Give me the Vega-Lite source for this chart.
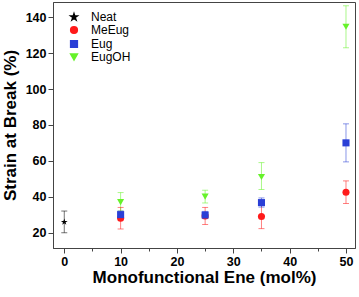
{
  "$schema": "https://vega.github.io/schema/vega-lite/v6.json",
  "width": 302,
  "height": 246,
  "autosize": "none",
  "padding": {"left": 53, "top": 2, "right": 4, "bottom": 49},
  "background": "white",
  "config": {
    "view": {"stroke": "#444", "strokeWidth": 1},
    "font": "Liberation Sans",
    "axis": {
      "domainColor": "#444", "tickColor": "#444", "grid": false,
      "labelFont": "Liberation Sans", "labelFontWeight": "bold", "labelFontSize": 12.5, "labelColor": "#000",
      "titleFont": "Liberation Sans", "titleFontWeight": "bold", "titleFontSize": 17, "titleColor": "#000"
    }
  },
  "data": {"values": [
    {"s": "Neat", "x": 0, "y": 25.9, "lo": 19.9, "hi": 32},
    {"s": "MeEug", "x": 10, "y": 28, "lo": 22, "hi": 34},
    {"s": "Eug", "x": 10, "y": 30, "lo": 28, "hi": 32},
    {"s": "EugOH", "x": 10, "y": 37, "lo": 32, "hi": 42.3},
    {"s": "MeEug", "x": 25, "y": 29.3, "lo": 24.5, "hi": 34},
    {"s": "Eug", "x": 25, "y": 29.8, "lo": 27.8, "hi": 31.8},
    {"s": "EugOH", "x": 25, "y": 40, "lo": 36.5, "hi": 43.6},
    {"s": "MeEug", "x": 35, "y": 29, "lo": 22.2, "hi": 35.8},
    {"s": "Eug", "x": 35, "y": 36.7, "lo": 34.2, "hi": 39.3},
    {"s": "EugOH", "x": 35, "y": 51, "lo": 44, "hi": 59},
    {"s": "MeEug", "x": 50, "y": 42.5, "lo": 36.2, "hi": 48.8},
    {"s": "Eug", "x": 50, "y": 70, "lo": 59.4, "hi": 80.6},
    {"s": "EugOH", "x": 50, "y": 134.7, "lo": 123, "hi": 146.4}
  ]},
  "encoding": {
    "x": {
      "field": "x", "type": "quantitative",
      "scale": {"domain": [-2, 51.6], "nice": false, "zero": false},
      "axis": {
        "title": "Monofunctional Ene (mol%)",
        "values": [0, 5, 10, 15, 20, 25, 30, 35, 40, 45, 50],
        "labelExpr": "datum.value % 10 === 0 ? datum.label : ''",
        "tickSize": {"condition": {"test": "datum.value % 10 === 0", "value": 5}, "value": 3},
        "labelPadding": 2, "titlePadding": 2, "labelFlush": false
      }
    },
    "color": {
      "field": "s", "type": "nominal",
      "scale": {"domain": ["Neat", "MeEug", "Eug", "EugOH"], "range": ["#000000", "#ff1a1a", "#2a3fd6", "#66f22a"]},
      "legend": {
        "orient": "none", "legendX": 15, "legendY": 9, "title": null,
        "labelFont": "Liberation Sans", "labelFontSize": 12, "labelColor": "#000",
        "symbolSize": 45, "symbolOpacity": 1, "rowPadding": 0, "labelOffset": 11
      }
    }
  },
  "layer": [
    {
      "mark": {"type": "rule", "strokeWidth": 1, "opacity": 0.55},
      "encoding": {
        "y": {
          "field": "lo", "type": "quantitative",
          "scale": {"domain": [11.4, 148.5], "nice": false, "zero": false},
          "axis": {
            "title": "Strain at Break (%)",
            "values": [20, 30, 40, 50, 60, 70, 80, 90, 100, 110, 120, 130, 140],
            "labelExpr": "datum.value % 20 === 0 ? datum.label : ''",
            "tickSize": {"condition": {"test": "datum.value % 20 === 0", "value": 5}, "value": 3},
            "labelPadding": 2, "titlePadding": 6
          }
        },
        "y2": {"field": "hi"}
      }
    },
    {
      "mark": {"type": "tick", "orient": "horizontal", "size": 6, "thickness": 1, "opacity": 0.55},
      "encoding": {"y": {"field": "lo", "type": "quantitative"}}
    },
    {
      "mark": {"type": "tick", "orient": "horizontal", "size": 6, "thickness": 1, "opacity": 0.55},
      "encoding": {"y": {"field": "hi", "type": "quantitative"}}
    },
    {
      "mark": {"type": "point", "filled": true, "opacity": 1, "size": 50},
      "encoding": {
        "y": {"field": "y", "type": "quantitative"},
        "shape": {
          "field": "s", "type": "nominal",
          "scale": {"domain": ["Neat", "MeEug", "Eug", "EugOH"], "range": [
            "M0,-1L0.2245,-0.309L0.951,-0.309L0.3633,0.118L0.5878,0.809L0,0.382L-0.5878,0.809L-0.3633,0.118L-0.951,-0.309L-0.2245,-0.309Z",
            "circle", "square", "triangle-down"]},
          "legend": {
            "orient": "none", "legendX": 15, "legendY": 9, "title": null,
            "labelFont": "Liberation Sans", "labelFontSize": 12, "labelColor": "#000",
            "symbolSize": 45, "symbolOpacity": 1, "rowPadding": 0, "labelOffset": 11
          }
        }
      }
    }
  ]
}
